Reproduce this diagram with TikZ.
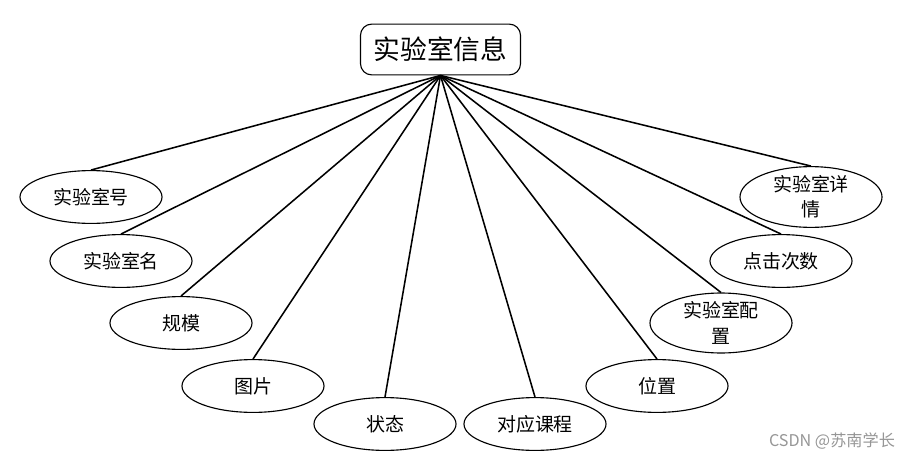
\documentclass[tikz,border=0pt]{standalone}
\usepackage{fontspec}
\setmainfont{Noto Sans CJK SC}
\usetikzlibrary{shapes,positioning}
\definecolor{marklgray}{RGB}{150,150,150}

\begin{document}
\begin{tikzpicture}[
    x=0.025cm, y=-0.025cm,
    entity/.style={draw, rounded corners=8pt, line width=0.8pt, fill=white, minimum width=4.0cm, minimum height=1.27cm, font=\fontsize{19}{21}\selectfont},
    attr/.style={draw, ellipse, line width=0.8pt, fill=white, minimum width=3.55cm, minimum height=1.32cm, inner sep=0pt, align=center, font=\fontsize{13.5}{18}\selectfont},
    link/.style={line width=1.1pt}
]
\useasboundingbox (0,0) rectangle (916,460);

% Entity
\node[entity] (lab) at (440.5,49.5) {实验室信息};

% Attributes, left side
\node[attr] (num) at (91,197) {实验室号};
\node[attr] (name) at (121,261) {实验室名};
\node[attr] (size) at (181,323) {规模};
\node[attr] (pic) at (253,386) {图片};
\node[attr] (state) at (385,424) {状态};

% Attributes, right side
\node[attr] (course) at (535,424) {对应课程};
\node[attr] (loc) at (657,386) {位置};
\node[attr] (config) at (721,323) {实验室配\\置};
\node[attr] (clicks) at (781,261) {点击次数};
\node[attr] (detail) at (811,197) {实验室详\\情};

% Connect entity with attributes
\foreach \a in {num,name,size,pic,state,course,loc,config,clicks,detail}
    \draw[link] (lab.south) -- (\a.north);

% Watermark
\node[text=marklgray, font=\fontsize{11.5}{13}\selectfont] (mark) at (832,441) {CSDN @苏南学长};

\end{tikzpicture}
\end{document}
